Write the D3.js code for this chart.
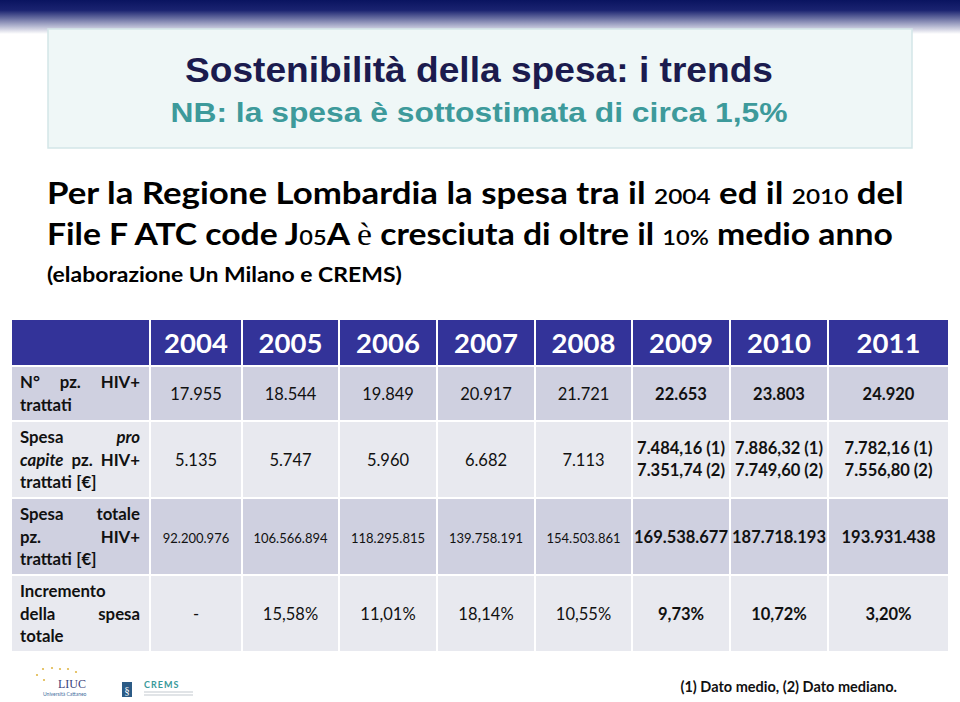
<!DOCTYPE html>
<html>
<head>
<meta charset="utf-8">
<script src="https://cdn.jsdelivr.net/npm/d3@7"></script>
<style>
  body { margin: 0; background: #fff; }
  svg { display: block; }
</style>
</head>
<body>
<div id="slide"></div>
<script>
// ---- data ----
const years = [2004, 2005, 2006, 2007, 2008, 2009, 2010, 2011];
const pazientiTrattati = [17955, 18544, 19849, 20917, 21721, 22653, 23803, 24920];
const spesaProCapite = [5135, 5747, 5960, 6682, 7113, null, null, null];
const spesaMedia = [null, null, null, null, null, 7484.16, 7886.32, 7782.16];
const spesaMediana = [null, null, null, null, null, 7351.74, 7749.60, 7556.80];
const spesaTotale = [92200976, 106566894, 118295815, 139758191, 154503861, 169538677, 187718193, 193931438];
const incremento = [null, 15.58, 11.01, 18.14, 10.55, 9.73, 10.72, 3.20];
const boldFrom = 2009;

// row labels: each line is a list of words, "*" marks italic
const rowLabels = [
  [["N°", "pz.", "HIV+"], ["trattati"]],
  [["Spesa", "*pro"], ["*capite", "pz.", "HIV+"], ["trattati", "[€]"]],
  [["Spesa", "totale"], ["pz.", "HIV+"], ["trattati", "[€]"]],
  [["Incremento"], ["della", "spesa"], ["totale"]]
];

const titolo = "Sostenibilità della spesa: i trends";
const sottotitolo = "NB: la spesa è sottostimata di circa 1,5%";
const riga1 = [["Per la Regione Lombardia la spesa tra il ", "b"], ["2004", "s"], [" ed il ", "b"], ["2010", "s"], [" del", "b"]];
const riga2 = [["File F ATC code J", "b"], ["05", "s"], ["A ", "b"], ["è", "r"], [" cresciuta di oltre il ", "b"], ["10%", "s"], [" medio anno", "b"]];
const riga3 = [["(elaborazione Un Milano e CREMS)", "b"]];
const footnote = "(1) Dato medio, (2) Dato mediano.";

// ---- formats ----
const it = d3.formatLocale({decimal: ",", thousands: ".", grouping: [3], currency: ["", "€"]});
const fInt = it.format(",d");
const fDec = it.format(",.2f");

const width = 960, height = 702;

const svg = d3.select("#slide").append("svg")
    .attr("width", width)
    .attr("height", height);

const defs = svg.append("defs");
const grad = defs.append("linearGradient")
    .attr("id", "topband")
    .attr("x1", 0).attr("x2", 0).attr("y1", 0).attr("y2", 1);
grad.append("stop").attr("offset", "0%").attr("stop-color", "#0a1460");
grad.append("stop").attr("offset", "30%").attr("stop-color", "#1a2370");
grad.append("stop").attr("offset", "100%").attr("stop-color", "#ffffff");

svg.append("rect")
    .attr("width", width).attr("height", 34)
    .attr("fill", "url(#topband)");

// title box
svg.append("rect")
    .attr("x", 48).attr("y", 29)
    .attr("width", 864).attr("height", 119)
    .attr("fill", "#eff7f7")
    .attr("stroke", "#d3e6e8")
    .attr("stroke-width", 1.5);

svg.append("text")
    .attr("x", 479).attr("y", 82)
    .attr("text-anchor", "middle")
    .attr("font-family", "Liberation Sans, Arial, sans-serif")
    .attr("font-weight", "bold")
    .attr("font-size", 35)
    .attr("fill", "#1b1b4e")
    .attr("textLength", 588)
    .attr("lengthAdjust", "spacingAndGlyphs")
    .text(titolo);

svg.append("text")
    .attr("x", 479).attr("y", 122)
    .attr("text-anchor", "middle")
    .attr("font-family", "Liberation Sans, Arial, sans-serif")
    .attr("font-weight", "bold")
    .attr("font-size", 27)
    .attr("fill", "#3d9a9b")
    .attr("textLength", 617)
    .attr("lengthAdjust", "spacingAndGlyphs")
    .text(sottotitolo);

// heading lines, stretched to the width they take on the slide
function headingLine(parts, y, size, targetW) {
  const g = svg.append("g").attr("transform", `translate(47,${y})`);
  const t = g.append("text")
      .attr("font-family", "Lato, sans-serif")
      .attr("font-weight", "bold")
      .attr("font-size", size)
      .attr("fill", "#000")
      .attr("xml:space", "preserve")
      .style("white-space", "pre");
  parts.forEach(p => {
    const ts = t.append("tspan").text(p[0]);
    if (p[1] === "s") ts.attr("font-size", size * 0.7).attr("font-weight", 600);
    if (p[1] === "r") ts.attr("font-family", "Liberation Serif, serif").attr("font-weight", "normal");
  });
  const w = t.node().getComputedTextLength();
  t.attr("transform", `scale(${targetW / w},1)`);
}
headingLine(riga1, 204, 31, 857);
headingLine(riga2, 245, 31, 846);
headingLine(riga3, 282, 21, 355);

// ---- table ----
const colX = d3.scaleOrdinal().domain(years).range([151, 243, 340, 438, 536, 633, 731, 829]);
const colW = d3.scaleOrdinal().domain(years).range([90, 95, 96, 96, 95, 96, 96, 119]);
const rowY = [367, 422, 499, 576];
const rowH = [53, 75, 75, 75];
const rowFill = ["#cfd0e0", "#e8e9ef", "#cfd0e0", "#e8e9ef"];
const headY = 320, headH = 45;
const labX = 12, labW = 137;

const table = svg.append("g");

// header
table.append("rect")
    .attr("x", labX).attr("y", headY)
    .attr("width", labW).attr("height", headH)
    .attr("fill", "#333399");

table.selectAll(".hcell")
  .data(years)
  .join("rect")
    .attr("class", "hcell")
    .attr("x", d => colX(d)).attr("y", headY)
    .attr("width", d => colW(d)).attr("height", headH)
    .attr("fill", "#333399");

table.selectAll(".htext")
  .data(years)
  .join("text")
    .attr("class", "htext")
    .attr("x", d => colX(d) + colW(d) / 2)
    .attr("y", headY + 33)
    .attr("text-anchor", "middle")
    .attr("font-family", "Lato, sans-serif")
    .attr("font-weight", "bold")
    .attr("font-size", 27.5)
    .attr("fill", "#fff")
    .text(d => d);

// body cells
rowY.forEach((y, r) => {
  table.append("rect")
      .attr("x", labX).attr("y", y)
      .attr("width", labW).attr("height", rowH[r])
      .attr("fill", rowFill[r]);
  table.selectAll(".cell" + r)
    .data(years)
    .join("rect")
      .attr("class", "cell" + r)
      .attr("x", d => colX(d)).attr("y", y)
      .attr("width", d => colW(d)).attr("height", rowH[r])
      .attr("fill", rowFill[r]);
});

// row labels, justified like the slide
const lineH = 22.3;
rowLabels.forEach((lines, r) => {
  const n = lines.length;
  const mid = rowY[r] + rowH[r] / 2;
  const y0 = mid - (n - 1) * lineH / 2 + 6;
  lines.forEach((words, i) => {
    const y = y0 + i * lineH;
    const last = i === n - 1 || words.length === 1;
    const nodes = words.map(w => table.append("text")
        .attr("y", y)
        .attr("font-family", "Lato, sans-serif")
        .attr("font-weight", "bold")
        .attr("font-size", 16.8)
        .attr("font-style", w.startsWith("*") ? "italic" : "normal")
        .attr("fill", "#111")
        .text(w.replace("*", "")));
    const ws = nodes.map(t => t.node().getComputedTextLength());
    const gap = last ? 4.5 : (140 - 20 - d3.sum(ws)) / (words.length - 1);
    let x = 20;
    nodes.forEach((t, k) => { t.attr("x", x); x += ws[k] + gap; });
  });
});

// cell values
function cellText(r, values, fmt, small) {
  table.selectAll(".val" + r)
    .data(years.map((y, i) => ({year: y, v: values[i], i})))
    .join("text")
      .attr("class", "val" + r)
      .attr("x", d => colX(d.year) + colW(d.year) / 2)
      .attr("y", rowY[r] + rowH[r] / 2 + 6)
      .attr("text-anchor", "middle")
      .attr("font-family", "Lato, sans-serif")
      .attr("font-weight", d => d.year >= boldFrom ? "bold" : "normal")
      .attr("font-size", d => d.year >= boldFrom ? 16.5 : (small ? 13 : 16.5))
      .attr("fill", "#111")
      .text(d => fmt(d.v));
}
cellText(0, pazientiTrattati, fInt);
cellText(1, spesaProCapite, v => v == null ? "" : fInt(v));
cellText(2, spesaTotale, fInt, true);
cellText(3, incremento, v => v == null ? "-" : fDec(v) + "%");

// mean / median pairs in the "pro capite" row
const pairs = years.map((y, i) => ({year: y, a: spesaMedia[i], b: spesaMediana[i]})).filter(d => d.a != null);
[["a", " (1)", -6], ["b", " (2)", 16.5]].forEach(([k, suf, dy]) => {
  table.selectAll(".pair" + k)
    .data(pairs)
    .join("text")
      .attr("class", "pair" + k)
      .attr("x", d => colX(d.year) + colW(d.year) / 2)
      .attr("y", rowY[1] + rowH[1] / 2 + dy)
      .attr("text-anchor", "middle")
      .attr("font-family", "Lato, sans-serif")
      .attr("font-weight", "bold")
      .attr("font-size", 16.5)
      .attr("fill", "#111")
      .text(d => fDec(d[k]) + suf);
});

// ---- footer ----
svg.append("text")
    .attr("x", 897).attr("y", 692)
    .attr("text-anchor", "end")
    .attr("font-family", "Lato, sans-serif")
    .attr("font-weight", "bold")
    .attr("font-size", 14.5)
    .attr("fill", "#111")
    .text(footnote);

// LIUC logo
const stars = [[37, 675], [43, 669], [52, 668], [60, 669], [68, 669], [76, 672], [44, 680]];
svg.selectAll(".star")
  .data(stars)
  .join("circle")
    .attr("class", "star")
    .attr("cx", d => d[0]).attr("cy", d => d[1])
    .attr("r", 1.1)
    .attr("fill", "#e0b84a");
svg.append("text")
    .attr("x", 58).attr("y", 688)
    .attr("font-family", "Liberation Serif, serif")
    .attr("font-size", 12)
    .attr("fill", "#3a3f7a")
    .text("LIUC");
svg.append("text")
    .attr("x", 43).attr("y", 696)
    .attr("font-family", "Lato, sans-serif")
    .attr("font-size", 5)
    .attr("fill", "#3f6e9e")
    .text("Università Cattaneo");

// CREMS logo
svg.append("rect")
    .attr("x", 122).attr("y", 682)
    .attr("width", 10).attr("height", 15)
    .attr("fill", "#2c5b86");
svg.append("text")
    .attr("x", 127).attr("y", 694)
    .attr("text-anchor", "middle")
    .attr("font-family", "Liberation Serif, serif")
    .attr("font-size", 11)
    .attr("fill", "#fff")
    .text("§");
svg.append("text")
    .attr("x", 144).attr("y", 688)
    .attr("font-family", "Lato, sans-serif")
    .attr("font-weight", "bold")
    .attr("font-size", 9)
    .attr("letter-spacing", 1)
    .attr("fill", "#3a9a9a")
    .text("CREMS");
[692, 695].forEach(y => {
  svg.append("line")
      .attr("x1", 144).attr("x2", 193)
      .attr("y1", y).attr("y2", y)
      .attr("stroke", "#9aa5b0")
      .attr("stroke-width", 0.6);
});
</script>
</body>
</html>
